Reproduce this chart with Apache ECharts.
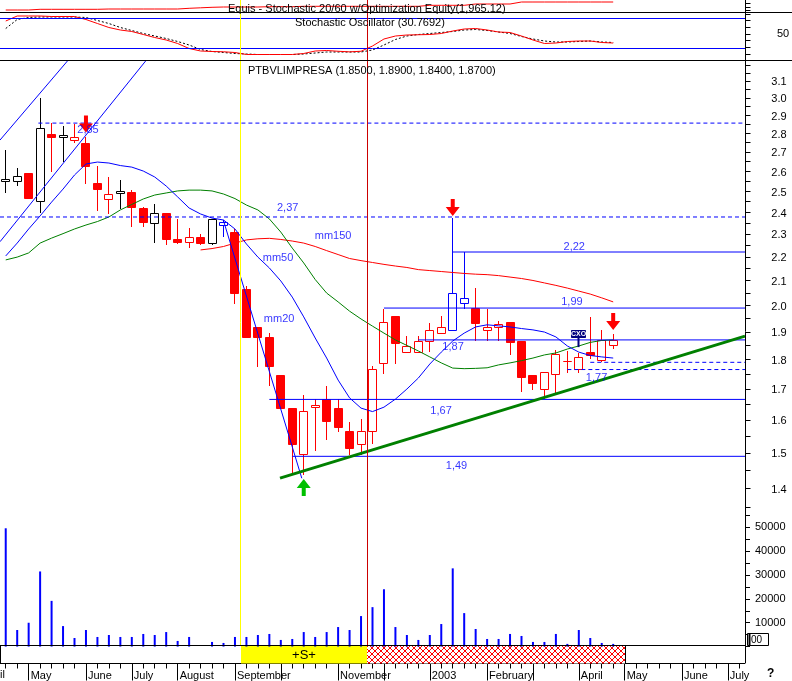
<!DOCTYPE html>
<html><head><meta charset="utf-8">
<script src="https://cdn.jsdelivr.net/npm/echarts@6/dist/echarts.min.js"></script>
<style>html,body{margin:0;padding:0;background:#fff}#c{width:792px;height:681px}</style>
</head><body><div id="c"></div>
<script>
// ---------------- DATA ----------------
const slotCount = 65; // weekly slots on the time axis (54 weeks of data + empty future)
const slots = Array.from({length: slotCount}, (_, i) => String(i));

const candleOpen  = [2.55,2.55,2.589,2.452,2.797,2.776,2.765,2.745,2.539,2.46,2.489,2.494,2.418,2.349,2.394,2.277,2.265,2.286,2.258,2.34,2.31,2.064,1.916,1.879,1.746,1.636,1.496,1.64,1.666,1.636,1.565,1.526,1.565,1.787,1.959,1.827,1.827,1.867,1.895,1.907,2.01,1.99,1.907,1.916,1.935,1.867,1.746,1.698,1.749,1.796,1.768,1.827,1.798,1.85];
const candleHigh  = [2.709,2.615,2.589,2.997,2.854,2.839,2.848,2.78,2.626,2.569,2.555,2.504,2.426,2.437,2.394,2.366,2.325,2.298,2.366,2.363,2.321,2.077,1.916,1.896,1.746,1.636,1.679,1.665,1.709,1.665,1.592,1.604,1.777,1.986,1.959,1.883,1.883,1.934,1.959,2.371,2.22,2.068,1.987,1.94,1.935,1.867,1.746,1.758,1.833,1.83,1.822,1.957,1.907,1.89];
const candleLow   = [2.497,2.53,2.468,2.402,2.602,2.652,2.75,2.541,2.41,2.397,2.418,2.336,2.336,2.265,2.254,2.258,2.24,2.254,2.254,2.291,2.01,1.879,1.778,1.713,1.638,1.44,1.44,1.509,1.54,1.565,1.497,1.497,1.528,1.752,1.789,1.827,1.827,1.829,1.895,1.907,1.99,1.87,1.87,1.87,1.819,1.692,1.699,1.669,1.69,1.758,1.755,1.804,1.793,1.84];
const candleClose = [2.56,2.577,2.468,2.826,2.78,2.789,2.778,2.628,2.51,2.484,2.5,2.422,2.353,2.394,2.279,2.265,2.286,2.258,2.366,2.354,2.051,1.879,1.879,1.778,1.638,1.526,1.628,1.648,1.597,1.578,1.515,1.565,1.766,1.935,1.86,1.848,1.867,1.906,1.918,2.048,2.028,1.931,1.919,1.928,1.862,1.74,1.718,1.758,1.819,1.796,1.808,1.816,1.87,1.87];
const candleColor = ['k','k','r','k','r','k','r','r','r','r','k','r','r','k','r','r','r','r','k','b',
  'r','r','r','r','r','r','r','r','r','r','r','r','r','r','r','r','r','r','r','b','b',
  'r','r','r','r','r','r','r','r','r','r','r','r','r'];

const mm20 = [2.203,2.259,2.322,2.382,2.447,2.510,2.580,2.636,2.646,2.641,2.628,2.620,2.600,2.570,2.525,2.472,2.419,2.391,2.372,2.363,2.322,2.255,2.198,2.152,2.098,2.033,1.956,1.877,1.805,1.729,1.670,1.637,1.626,1.640,1.666,1.699,1.736,1.784,1.826,1.866,1.895,1.918,1.926,1.922,1.918,1.912,1.907,1.899,1.881,1.848,1.826,1.814,1.809,1.805];
const mm50 = [2.186,2.198,2.216,2.259,2.281,2.301,2.322,2.340,2.356,2.377,2.410,2.436,2.462,2.481,2.491,2.501,2.505,2.505,2.501,2.486,2.464,2.433,2.410,2.368,2.308,2.237,2.173,2.104,2.049,2.014,1.978,1.948,1.921,1.895,1.870,1.850,1.830,1.809,1.788,1.770,1.768,1.769,1.771,1.781,1.788,1.796,1.805,1.816,1.823,1.837,1.848,1.861,1.868,1.870];
const mm150 = [null,null,null,null,null,null,null,null,null,null,null,null,null,null,null,null,null,2.229,2.235,2.244,2.259,2.273,2.278,2.280,2.275,2.268,2.259,2.244,2.226,2.209,2.192,2.183,2.175,2.167,2.160,2.154,2.145,2.141,2.137,2.133,2.129,2.126,2.124,2.120,2.114,2.108,2.100,2.090,2.080,2.069,2.057,2.045,2.030,2.014];

const volume = [49600,6950,10000,31500,19170,8600,3600,6950,4040,4860,4040,4040,5300,4860,6100,2370,4040,0,1950,1530,4040,4040,4860,5300,2790,3200,6100,4040,6100,8200,6950,12800,16540,24040,8200,4860,2790,4860,9460,32800,14040,7380,3200,3200,5300,4460,1950,1950,5300,1130,6950,3600,1530,1130];

const stochK = [75,85,85,85,84,84,84,78,70,62,57,54,48,42,37,30,20,15,14,13.5,12,8,8,8,8,8,10,15,16,14.5,13.3,14.5,25,39,45,47,47.5,48,50,55,59,60,57,53,52,45,37,30,31,34,35,35,32,31];
const stochD = [60,78,82,83,83,83,83,82,76,70,62,56,50,45,40,34,27,18,14,12,10,9,8,8,8,8,9,11,13,13,13,13,17,27,38,45,48,50,52,54,57,58,56,53,50,44,39,35,33,33,34,35,33,32];
const equity = [1033,1033,1115,1115,1115,1115,1115,1115,1150,1150,1150,1150,1150,1150,1150,1232,1290,1348,1383,1383,1383,1383,1418,1418,1418,1465,1465,1465,1465,1465,1465,1465,1465,1465,1465,1465,1582,1582,1582,1582,1733,1733,1733,1733,1965.12,1965.12,1965.12,1965.12,1965.12,1965.12,1965.12,1965.12,1965.12,1965.12];

// support / resistance levels
const levelValue  = [2.855, 2.377, 2.22, 1.99, 1.87, 1.79, 1.765, 1.665, 1.49];
const levelFrom   = [2.85, -0.5, 39, 33, 36, 51, 49, 23, 25];
const levelDashed = [true, true, false, false, false, true, true, false, false];

// trend lines [x index, price]
const channelUpper = [[-0.5, 2.762], [5.61, 3.242]];
const channelLower = [[-0.5, 2.265], [12.42, 3.242]];
const steepLine    = [[19, 2.36], [25.83, 1.4276]];
const supportLine  = [[23.93, 1.428], [64.5, 1.884]];

const arrowDown = [[7, 2.85], [39, 2.421], [53, 1.938]];
const arrowUp   = [[26, 1.402]];
const cxoMark   = [[50, 1.892, 1.844]];

const annotations = [
  {name: '2,85', value: [7.18, 2.817]}, {name: '2,37', value: [24.6, 2.419]},
  {name: '2,22', value: [49.6, 2.242]}, {name: '1,99', value: [49.4, 2.014]},
  {name: '1,87', value: [39.03, 1.844]}, {name: '1,77', value: [51.55, 1.736]},
  {name: '1,67', value: [37.98, 1.628]}, {name: '1,49', value: [39.33, 1.462]},
  {name: 'mm150', value: [28.56, 2.290]}, {name: 'mm50', value: [23.76, 2.194]},
  {name: 'mm20', value: [23.85, 1.948]}
];

// system state band: [from, to, kind] kind 0 = long (+S+), 1 = hatched
const bandSegments = [[20.5, 31.5, 0], [31.5, 54, 1]];
const signalLines = [20.5, 31.5];

// axes
const priceTicks  = [1.35,1.4,1.45,1.5,1.55,1.6,1.65,1.7,1.75,1.8,1.85,1.9,1.95,2.0,2.05,2.1,2.15,2.2,2.25,2.3,2.35,2.4,2.45,2.5,2.55,2.6,2.65,2.7,2.75,2.8,2.85,2.9,2.95,3.0,3.05,3.1,3.15,3.2];
const priceLabels = ['1.4','1.5','1.6','1.7','1.8','1.9','2.0','2.1','2.2','2.3','2.4','2.5','2.6','2.7','2.8','2.9','3.0','3.1'];
const stochTicks  = [10, 23.3, 36.7, 50, 63.3, 76.7, 90];
const stochLabels = ['50'];
const equityTicks = [1000, 1400, 1800];
const monthStartIdx = [2, 7, 11, 15, 20, 24, 29, 33, 37, 42, 46, 50, 54, 59, 63];
const monthText     = ['May','June','July','August','September','','November','','2003','February','','April','May','June','July'];

// ---------------- CHART ----------------
const FONT = '"Liberation Sans", Arial, sans-serif';
const BLUE = '#0000ff', RED = '#ff0000', GREEN = '#008000';
const chart = echarts.init(document.getElementById('c'), null, {renderer: 'canvas', width: 792, height: 681});

const hatch = document.createElement('canvas');
hatch.width = 6; hatch.height = 6;
(function () {
  const g = hatch.getContext('2d');
  g.fillStyle = '#fff'; g.fillRect(0, 0, 6, 6);
  g.strokeStyle = RED; g.lineWidth = 1;
  g.beginPath(); g.moveTo(0, 0); g.lineTo(6, 6); g.moveTo(6, 0); g.lineTo(0, 6); g.stroke();
})();

const vx = g => ({type: 'value', gridIndex: g, min: -0.5, max: 64.5, show: false});
const gridBase = {left: 0, width: 745, containLabel: false, outerBoundsMode: 'none', show: false};
const idx = arr => arr.map((v, i) => [i, v]);

function tickSeries(xi, yi, values, len) {
  return {type: 'custom', xAxisIndex: xi, yAxisIndex: yi, silent: true, clip: false, z: 8,
    data: values.map(v => [64.5, v]),
    renderItem: (params, api) => {
      const p = api.coord([64.5, api.value(1)]);
      const x = params.coordSys.x + params.coordSys.width + 0.5;
      const y = Math.round(p[1]) + 0.5;
      return {type: 'line', shape: {x1: x, y1: y, x2: x + len, y2: y}, style: {stroke: '#000', lineWidth: 1}};
    }};
}
function labelSeries(xi, yi, labels, dx, dy) {
  return {type: 'custom', xAxisIndex: xi, yAxisIndex: yi, silent: true, clip: false, z: 8,
    data: labels.map(t => [64.5, parseFloat(t)]),
    renderItem: (params, api) => {
      const p = api.coord([64.5, api.value(1)]);
      const x = params.coordSys.x + params.coordSys.width + dx;
      return {type: 'text', style: {text: labels[params.dataIndex], x: x, y: p[1] + dy,
        font: '11px ' + FONT, fill: '#000', textAlign: 'center', align: 'center',
        textVerticalAlign: 'middle', verticalAlign: 'middle'}};
    }};
}

const series = [];
// equity
series.push({type: 'line', xAxisIndex: 0, yAxisIndex: 0, data: idx(equity), step: 'end', symbol: 'none',
  lineStyle: {color: RED, width: 1}, silent: true, z: 3});
// stochastic
series.push({type: 'line', xAxisIndex: 1, yAxisIndex: 1, data: idx(stochK), symbol: 'none',
  lineStyle: {color: RED, width: 1}, silent: true, z: 4,
  markLine: {silent: true, symbol: 'none', label: {show: false}, animation: false,
    lineStyle: {color: BLUE, type: 'solid', width: 1}, data: [{yAxis: 80}, {yAxis: 20}]}});
series.push({type: 'line', xAxisIndex: 1, yAxisIndex: 1, data: idx(stochD), symbol: 'none',
  lineStyle: {color: '#000', width: 1, type: [2, 2]}, silent: true, z: 3});
// candles
series.push({type: 'custom', xAxisIndex: 2, yAxisIndex: 2, silent: true, z: 3,
  data: candleOpen.map((o, i) => [i, o, candleClose[i], candleLow[i], candleHigh[i]]),
  renderItem: (params, api) => {
    const i = api.value(0), o = api.value(1), c = api.value(2), l = api.value(3), h = api.value(4);
    const col = {k: '#000', r: RED, b: BLUE}[candleColor[params.dataIndex]];
    const po = api.coord([i, o]), pc = api.coord([i, c]), pl = api.coord([i, l]), ph = api.coord([i, h]);
    const x = Math.floor(po[0]) + 0.5;
    const top = Math.round(Math.min(po[1], pc[1])) + 0.5;
    const bot = Math.round(Math.max(po[1], pc[1])) + 0.5;
    const filled = c < o;
    return {type: 'group', children: [
      {type: 'line', shape: {x1: x, y1: Math.round(ph[1]), x2: x, y2: Math.round(pl[1]) + 1}, style: {stroke: col, lineWidth: 1}},
      {type: 'rect', shape: {x: x - 4, y: top, width: 8, height: bot - top}, style: {fill: filled ? col : '#fff', stroke: col, lineWidth: 1}}
    ]};
  }});
// moving averages
[[mm150, RED], [mm50, GREEN], [mm20, BLUE]].forEach(([d, col]) => {
  series.push({type: 'line', xAxisIndex: 2, yAxisIndex: 2, data: idx(d), symbol: 'none', connectNulls: false,
    lineStyle: {color: col, width: 1}, silent: true, z: 4});
});
// levels
levelValue.forEach((v, k) => {
  series.push({type: 'line', xAxisIndex: 2, yAxisIndex: 2, data: [[levelFrom[k], v], [64.5, v]], symbol: 'none',
    lineStyle: {color: BLUE, width: 1, type: levelDashed[k] ? [4, 3] : 'solid'}, silent: true, z: 4});
});
// trend lines
[[channelUpper, BLUE, 1], [channelLower, BLUE, 1], [steepLine, BLUE, 1], [supportLine, GREEN, 3]].forEach(([d, col, w]) => {
  series.push({type: 'line', xAxisIndex: 2, yAxisIndex: 2, data: d, symbol: 'none',
    lineStyle: {color: col, width: w}, silent: true, z: 5});
});
// arrows
series.push({type: 'scatter', xAxisIndex: 2, yAxisIndex: 2, data: arrowDown, silent: true, z: 7,
  symbol: 'path://M5,0L9,0L9,8L14,8L7,17L0,8L5,8Z', symbolSize: [14, 17], itemStyle: {color: RED, opacity: 1}});
series.push({type: 'scatter', xAxisIndex: 2, yAxisIndex: 2, data: arrowUp, silent: true, z: 7,
  symbol: 'path://M7,0L14,9L9,9L9,17L5,17L5,9L0,9Z', symbolSize: [14, 17], itemStyle: {color: '#00c000', opacity: 1}});
// annotations
series.push({type: 'scatter', xAxisIndex: 2, yAxisIndex: 2, data: annotations, silent: true, z: 7,
  symbolSize: 1, itemStyle: {color: 'rgba(0,0,0,0)'},
  label: {show: true, position: 'inside', formatter: '{b}', color: BLUE, fontSize: 11, fontFamily: FONT}});
// CXO marker
series.push({type: 'custom', xAxisIndex: 2, yAxisIndex: 2, silent: true, z: 7, data: cxoMark,
  renderItem: (params, api) => {
    const a = api.coord([api.value(0), api.value(1)]), b = api.coord([api.value(0), api.value(2)]);
    const x = Math.floor(a[0]) + 0.5;
    return {type: 'group', children: [
      {type: 'line', shape: {x1: x, y1: a[1] + 3, x2: x, y2: b[1]}, style: {stroke: '#000080', lineWidth: 2}},
      {type: 'rect', shape: {x: x - 7, y: Math.round(a[1]) - 3.5, width: 14, height: 7}, style: {fill: '#000080', stroke: '#000080', lineWidth: 1}},
      {type: 'text', style: {text: 'CXO', x: x, y: Math.round(a[1]), font: 'bold 7px ' + FONT, fill: '#fff',
        textAlign: 'center', align: 'center', textVerticalAlign: 'middle', verticalAlign: 'middle'}}
    ]};
  }});
// volume
series.push({type: 'bar', xAxisIndex: 3, yAxisIndex: 3, data: idx(volume), barWidth: 2, silent: true, z: 3,
  itemStyle: {color: BLUE}});
// band
series.push({type: 'custom', xAxisIndex: 4, yAxisIndex: 4, silent: true, z: 3, data: bandSegments,
  renderItem: (params, api) => {
    const a = api.coord([api.value(0), 1]), b = api.coord([api.value(1), 0]);
    const x0 = Math.round(a[0]), x1 = Math.round(b[0]);
    const y0 = params.coordSys.y, y1 = y0 + params.coordSys.height;
    const kind = api.value(2);
    const kids = [];
    if (kind === 0) {
      kids.push({type: 'rect', shape: {x: x0, y: y0, width: x1 - x0, height: y1 - y0}, style: {fill: '#ffff00'}});
      kids.push({type: 'text', style: {text: '+S+', x: (x0 + x1) / 2, y: (y0 + y1) / 2 + 0.5, font: '13px ' + FONT, fill: '#000',
        textAlign: 'center', align: 'center', textVerticalAlign: 'middle', verticalAlign: 'middle'}});
    } else {
      kids.push({type: 'rect', shape: {x: x0, y: y0, width: x1 - x0, height: y1 - y0}, style: {fill: {image: hatch, repeat: 'repeat'}}});
      kids.push({type: 'line', shape: {x1: x1 + 0.5, y1: y0, x2: x1 + 0.5, y2: y1}, style: {stroke: '#000', lineWidth: 1}});
    }
    return {type: 'group', children: kids};
  }});
// right axes
series.push(tickSeries(2, 2, priceTicks, 5));
series.push(labelSeries(2, 2, priceLabels, 34, 1.5));
series.push(tickSeries(1, 1, stochTicks, 5));
series.push(labelSeries(1, 1, stochLabels, 38, 0.5));
series.push(tickSeries(0, 0, equityTicks, 5));

chart.setOption({
  animation: false,
  backgroundColor: '#fff',
  textStyle: {fontFamily: FONT},
  grid: [
    Object.assign({}, gridBase, {top: 0, height: 12}),
    Object.assign({}, gridBase, {top: 8.5, height: 50}),
    Object.assign({}, gridBase, {top: 61, height: 455}),
    Object.assign({}, gridBase, {top: 515.4, height: 131.2}),
    Object.assign({}, gridBase, {top: 645.5, height: 18})
  ],
  xAxis: [vx(0), vx(1), vx(2), vx(3), vx(4),
    {type: 'category', gridIndex: 4, position: 'bottom', data: slots, boundaryGap: true,
      axisLine: {show: true, onZero: false, lineStyle: {color: '#000', width: 1}},
      axisTick: {show: true, alignWithLabel: true, interval: 0, length: 5, lineStyle: {color: '#000'}},
      axisLabel: {show: false}, splitLine: {show: false}},
    {type: 'category', gridIndex: 4, position: 'bottom', data: slots, boundaryGap: true,
      axisLine: {show: false, onZero: false},
      axisTick: {show: true, alignWithLabel: true, interval: i => monthStartIdx.includes(i), length: 17, lineStyle: {color: '#000'}},
      axisLabel: {show: true, interval: i => monthStartIdx.includes(i),
        formatter: (v, i) => { const k = monthStartIdx.indexOf(i); return k >= 0 ? monthText[k] : ''; },
        align: 'left', margin: 7, padding: [0, 0, 0, 2], color: '#000', fontSize: 11, fontFamily: FONT},
      splitLine: {show: false}}
  ],
  yAxis: [
    {type: 'value', gridIndex: 0, min: 800, max: 2200, show: false},
    {type: 'value', gridIndex: 1, min: 0, max: 100, show: false},
    {type: 'log', gridIndex: 2, logBase: 10, min: 1.3262, max: 3.2228, show: false},
    {type: 'value', gridIndex: 3, min: 0, max: 55000, interval: 5000, position: 'right',
      axisLine: {show: false, onZero: false},
      axisTick: {show: true, inside: false, length: 5, lineStyle: {color: '#000'}},
      axisLabel: {show: true, margin: 10, color: '#000', fontSize: 11, fontFamily: FONT,
        formatter: v => (v > 0 && v % 10000 === 0) ? String(v) : ''},
      splitLine: {show: false}},
    {type: 'value', gridIndex: 4, min: 0, max: 1, show: false}
  ],
  series: series
});

// frame / layout graphics, vertical signal lines placed through the x scale
const gx = v => chart.convertToPixel({xAxisIndex: 2}, v);
const txt = (s, x, y, opts) => Object.assign({type: 'text', silent: true, z: 20,
  style: Object.assign({text: s, x: x, y: y, font: '11px ' + FONT, fill: '#000',
    textVerticalAlign: 'middle', verticalAlign: 'middle'}, opts || {})});
const ln = (x1, y1, x2, y2, col, w, z) => ({type: 'line', silent: true, z: z || 10,
  shape: {x1: x1, y1: y1, x2: x2, y2: y2}, style: {stroke: col, lineWidth: w || 1}});

const graphics = [
  ln(Math.round(gx(signalLines[0])) - 0.5, 0, Math.round(gx(signalLines[0])) - 0.5, 645, '#ffff00', 1, 0),
  ln(Math.round(gx(signalLines[1])) + 0.5, 0, Math.round(gx(signalLines[1])) + 0.5, 645, '#cc0000', 1, 0),
  ln(0, 12.5, 792, 12.5, '#000', 1),
  ln(0, 60.5, 792, 60.5, '#000', 1),
  ln(745.5, 0, 745.5, 663, '#000', 1),
  ln(0, 645.5, 745, 645.5, '#000', 1),
  ln(0.5, 645.5, 0.5, 663.5, '#000', 1),
  txt('Equis - Stochastic 20/60 w/Optimization Equity(1,965.12)', 228, 9),
  txt('Stochastic Oscillator (30.7692)', 295, 22.5),
  txt('PTBVLIMPRESA (1.8500, 1.8900, 1.8400, 1.8700)', 248, 70.5),
  txt('il', 0, 675),
  txt('?', 767, 674, {font: 'bold 12px ' + FONT}),
  {type: 'rect', silent: true, z: 10, shape: {x: 747.5, y: 633.5, width: 21, height: 12}, style: {fill: '#fff', stroke: '#000', lineWidth: 1}},
  ln(749.5, 634, 749.5, 645, '#000', 2),
  txt('00', 751, 640, {font: '10px ' + FONT})
];
chart.setOption({graphic: graphics});
</script>
</body></html>
